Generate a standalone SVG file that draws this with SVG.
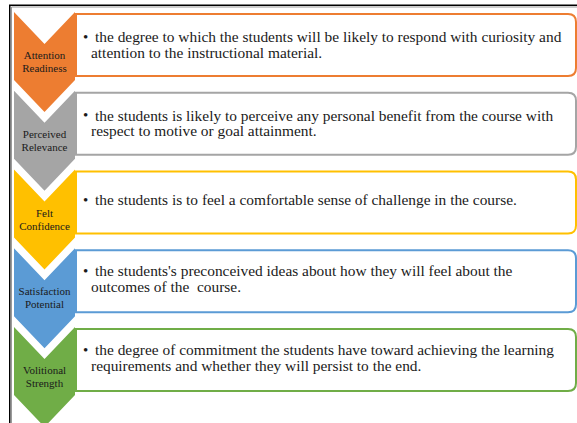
<svg xmlns="http://www.w3.org/2000/svg" width="577" height="423" viewBox="0 0 577 423">
  <style>
    .lbl { font-family: "Liberation Serif", "Times New Roman", serif; font-size: 11px; fill: #1a1a1a; text-anchor: middle; }
    .txt { font-family: "Liberation Serif", "Times New Roman", serif; font-size: 15.4px; fill: #1a1a1a; }
    .bul { font-family: "Liberation Serif", "Times New Roman", serif; font-size: 15px; fill: #1a1a1a; }
    .box { fill: #ffffff; stroke-width: 2; }
  </style>
  <rect x="0" y="0" width="577" height="423" fill="#ffffff"/>
  <g id="frame" fill="none">
    <polyline points="9.75,423 9.75,5.25 577,5.25" stroke="#000000" stroke-width="1.5"/>
    <polyline points="11.5,423 11.5,7 577,7" stroke="#9a9a9a" stroke-width="1"/>
  </g>
  <g id="connectors"></g>

  <g id="node-attention">
    <path d="M76,14 H568 Q576,14 576,22 V68 Q576,76 568,76 H76 Z" class="box" stroke="#ED7D31"/>
    <path d="M14,12 L44.5,44 L75,12 L75,80 L44.5,112 L14,80 Z" fill="#ED7D31"/>
    <text class="lbl" x="44.5" y="59">Attention</text>
    <text class="lbl" x="44.5" y="72">Readiness</text>
    <text class="bul" x="83" y="41.5">•</text>
    <text class="txt" x="95" y="42">the degree to which the students will be likely to respond with curiosity and</text>
    <text class="txt" x="91" y="57.5">attention to the instructional material.</text>
  </g>

  <g id="node-relevance">
    <path d="M76,92.75 H568 Q576,92.75 576,100.75 V146.75 Q576,154.75 568,154.75 H76 Z" class="box" stroke="#A5A5A5"/>
    <path d="M14,90.75 L44.5,122.75 L75,90.75 L75,158.75 L44.5,190.75 L14,158.75 Z" fill="#A5A5A5"/>
    <text class="lbl" x="44.5" y="138">Perceived</text>
    <text class="lbl" x="44.5" y="151">Relevance</text>
    <text class="bul" x="83" y="120">•</text>
    <text class="txt" x="95" y="120.5">the students is likely to perceive any personal benefit from the course with</text>
    <text class="txt" x="91" y="136">respect to motive or goal attainment.</text>
  </g>

  <g id="node-confidence">
    <path d="M76,171.5 H568 Q576,171.5 576,179.5 V225.5 Q576,233.5 568,233.5 H76 Z" class="box" stroke="#FFC000"/>
    <path d="M14,169.5 L44.5,201.5 L75,169.5 L75,237.5 L44.5,269.5 L14,237.5 Z" fill="#FFC000"/>
    <text class="lbl" x="44.5" y="217">Felt</text>
    <text class="lbl" x="44.5" y="230">Confidence</text>
    <text class="bul" x="83" y="204.5">•</text>
    <text class="txt" x="95" y="205">the students is to feel a comfortable sense of challenge in the course.</text>
  </g>

  <g id="node-satisfaction">
    <path d="M76,250.25 H568 Q576,250.25 576,258.25 V304.25 Q576,312.25 568,312.25 H76 Z" class="box" stroke="#5B9BD5"/>
    <path d="M14,248.25 L44.5,280.25 L75,248.25 L75,316.25 L44.5,348.25 L14,316.25 Z" fill="#5B9BD5"/>
    <text class="lbl" x="44.5" y="295">Satisfaction</text>
    <text class="lbl" x="44.5" y="308">Potential</text>
    <text class="bul" x="83" y="275.5">•</text>
    <text class="txt" x="95" y="276">the students's preconceived ideas about how they will feel about the</text>
    <text class="txt" x="91" y="292" xml:space="preserve">outcomes of the  course.</text>
  </g>

  <g id="node-volitional">
    <path d="M76,329 H568 Q576,329 576,337 V383 Q576,391 568,391 H76 Z" class="box" stroke="#70AD47"/>
    <path d="M14,327 L44.5,359 L75,327 L75,395 L44.5,427 L14,395 Z" fill="#70AD47"/>
    <text class="lbl" x="44.5" y="374">Volitional</text>
    <text class="lbl" x="44.5" y="387">Strength</text>
    <text class="bul" x="83" y="354.5">•</text>
    <text class="txt" x="95" y="355">the degree of commitment the students have toward achieving the learning</text>
    <text class="txt" x="91" y="370.5">requirements and whether they will persist to the end.</text>
  </g>
</svg>
